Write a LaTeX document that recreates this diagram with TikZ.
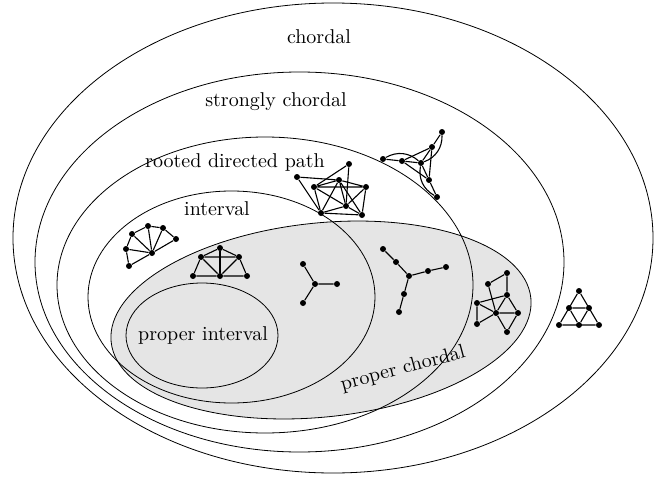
\documentclass[tikz,border=0pt]{standalone}
\usepackage{amsmath}
\usepackage{amssymb}
\usepackage{tikz}

\begin{document}
\begin{tikzpicture}[x=0.5pt, y=-0.5pt,
    vtx/.style={circle, fill, inner sep=0pt, minimum size=3pt},
    edg/.style={line width=0.55pt}]
    \useasboundingbox (0,0) rectangle (655,477);

    % classes
    \filldraw[fill=gray!20, rotate around={6:(321,320)}]
        (321,320) ellipse [x radius=211, y radius=97];
    \draw (333,238) ellipse [x radius=320, y radius=235];
    \draw (299.5,262) ellipse [x radius=264.5, y radius=190];
    \draw (265,285) ellipse [x radius=208, y radius=148];
    \draw (231.5,297) ellipse [x radius=143.5, y radius=106];
    \draw (202,335.5) ellipse [x radius=76, y radius=52.5];

    \node (chordal) at (319,37) {chordal};
    \node (strong) at (276,102) {strongly chordal};
    \node (rdp) at (235,162) {rooted directed path};
    \node (interval) at (217,209) {interval};
    \node (pinterval) at (203,335) {proper interval};
    \node[rotate=15] (pchordal) at (403,369) {proper chordal};

    % strongly chordal, not rooted directed path
    \node[vtx] (a1) at (442,132) {}; \node[vtx] (a2) at (432,147) {};
    \node[vtx] (a3) at (383,159) {}; \node[vtx] (a4) at (402,161) {};
    \node[vtx] (a5) at (421,163) {}; \node[vtx] (a6) at (429,180) {};
    \node[vtx] (a7) at (437,197) {};
    \draw[edg] (a3) -- (a4) -- (a2) -- (a6) -- (a4) -- (a5) -- (a2) -- (a1);
    \draw[edg] (a5) -- (a6) -- (a7);
    \draw[edg] (a3) to[bend left=35] (a5);
    \draw[edg] (a1) to[bend left=35] (a5);
    \draw[edg] (a7) to[bend left=35] (a5);

    % rooted directed path, not interval
    \node[vtx] (b1) at (297,177) {}; \node[vtx] (b2) at (349,164) {};
    \node[vtx] (b3) at (314,187) {}; \node[vtx] (b4) at (339,180) {};
    \node[vtx] (b5) at (366,187) {}; \node[vtx] (b6) at (346,206) {};
    \node[vtx] (b7) at (321,213) {}; \node[vtx] (b8) at (362,215) {};
    \draw[edg] (b1) -- (b4) -- (b5) -- (b3) -- (b4) -- (b7) -- (b1);
    \draw[edg] (b2) -- (b3) -- (b7) -- (b6) -- (b2);
    \draw[edg] (b3) -- (b6) -- (b4) -- (b8) -- (b6) -- (b5) -- (b8) -- (b7);

    % interval, not proper chordal
    \node[vtx] (c1) at (132,234) {}; \node[vtx] (c2) at (148,226) {};
    \node[vtx] (c3) at (163,228) {}; \node[vtx] (c4) at (176,239) {};
    \node[vtx] (c5) at (126,249) {}; \node[vtx] (c6) at (129,266) {};
    \node[vtx] (c7) at (152,253) {};
    \draw[edg] (c6) -- (c5) -- (c1) -- (c2) -- (c3) -- (c4) -- (c7);
    \draw[edg] (c1) -- (c7) -- (c2);
    \draw[edg] (c3) -- (c7) -- (c5);
    \draw[edg] (c6) -- (c7);

    % interval and proper chordal
    \node[vtx] (d1) at (201,257) {}; \node[vtx] (d2) at (220,248) {};
    \node[vtx] (d3) at (239,257) {}; \node[vtx] (d4) at (193,276) {};
    \node[vtx] (d5) at (220,276) {}; \node[vtx] (d6) at (247,276) {};
    \draw[edg] (d4) -- (d1) -- (d2) -- (d3) -- (d6) -- (d5) -- (d4);
    \draw[edg] (d1) -- (d3) -- (d5) -- (d1);
    \draw[edg] (d2) -- (d5);

    % claw
    \node[vtx] (e1) at (303,264) {}; \node[vtx] (e2) at (315,284) {};
    \node[vtx] (e3) at (337,284) {}; \node[vtx] (e4) at (303,303) {};
    \draw[edg] (e1) -- (e2) -- (e3);
    \draw[edg] (e2) -- (e4);

    % spider
    \node[vtx] (f1) at (383,249) {}; \node[vtx] (f2) at (396,262) {};
    \node[vtx] (f3) at (409,276) {}; \node[vtx] (f4) at (428,271) {};
    \node[vtx] (f5) at (446,267) {}; \node[vtx] (f6) at (404,294) {};
    \node[vtx] (f7) at (399,312) {};
    \draw[edg] (f1) -- (f2) -- (f3) -- (f4) -- (f5);
    \draw[edg] (f3) -- (f6) -- (f7);

    % proper chordal, not rooted directed path
    \node[vtx] (g1) at (507,273) {}; \node[vtx] (g2) at (488,284) {};
    \node[vtx] (g3) at (507,295) {}; \node[vtx] (g4) at (477,303) {};
    \node[vtx] (g5) at (496,313) {}; \node[vtx] (g6) at (518,313) {};
    \node[vtx] (g7) at (477,324) {}; \node[vtx] (g8) at (507,332) {};
    \draw[edg] (g2) -- (g1) -- (g3) -- (g4) -- (g7) -- (g5) -- (g2);
    \draw[edg] (g4) -- (g5) -- (g3) -- (g6) -- (g8) -- (g5) -- (g6);

    % not strongly chordal
    \node[vtx] (h1) at (579,291) {}; \node[vtx] (h2) at (569,308) {};
    \node[vtx] (h3) at (589,308) {}; \node[vtx] (h4) at (559,325) {};
    \node[vtx] (h5) at (579,325) {}; \node[vtx] (h6) at (599,325) {};
    \draw[edg] (h1) -- (h4) -- (h6) -- (h1);
    \draw[edg] (h2) -- (h3) -- (h5) -- (h2);
\end{tikzpicture}
\end{document}
